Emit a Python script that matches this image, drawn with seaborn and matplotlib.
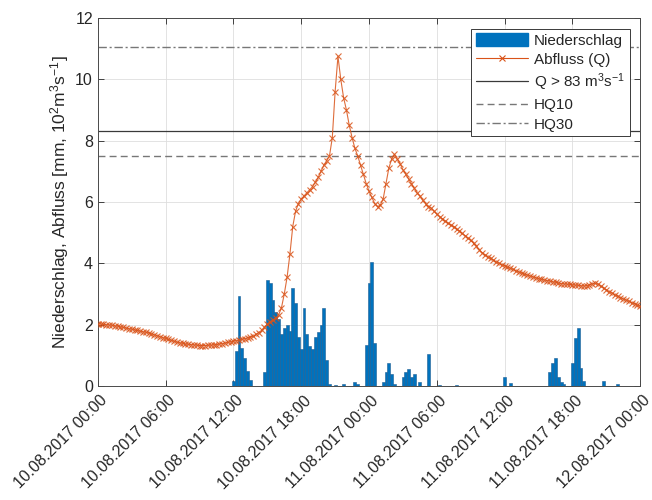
import pandas as pd
import matplotlib
matplotlib.use('Agg')
import matplotlib.pyplot as plt
import matplotlib.dates as mdates
import matplotlib.transforms as mtransforms
from matplotlib.lines import Line2D
from matplotlib.patches import Patch
import seaborn as sns

# Abfluss Q [10^2 m3/s], 15-min Werte 10.08.2017 00:00 - 12.08.2017 00:00
abfluss = [
    2.03, 2.02, 2.01, 2.00,  1.99, 1.98, 1.96, 1.95,  1.93, 1.91, 1.89, 1.87,
    1.85, 1.83, 1.81, 1.79,  1.77, 1.75, 1.73, 1.70,  1.67, 1.64, 1.61, 1.58,
    1.55, 1.52, 1.49, 1.46,  1.43, 1.41, 1.39, 1.37,  1.36, 1.35, 1.34, 1.33,
    1.32, 1.32, 1.32, 1.33,  1.33, 1.34, 1.35, 1.37,  1.38, 1.40, 1.42, 1.44,
    1.46, 1.48, 1.50, 1.52,  1.54, 1.57, 1.60, 1.62,  1.68, 1.74, 1.82, 1.92,
    2.02, 2.10, 2.16, 2.22,  2.32, 2.55, 3.00, 3.55,  4.30, 5.20, 5.70, 5.95,
    6.10, 6.20, 6.30, 6.40,  6.50, 6.65, 6.80, 7.00,  7.20, 7.35, 7.50, 8.10,
    9.60, 10.75, 10.00, 9.40,  9.00, 8.50, 8.10, 7.75,  7.50, 7.20, 6.90, 6.60,
    6.35, 6.15, 5.95, 5.85,  5.90, 6.10, 6.60, 7.10,  7.40, 7.55, 7.40, 7.25,
    7.05, 6.90, 6.75, 6.60,  6.45, 6.30, 6.20, 6.05,  5.95, 5.85, 5.80, 5.70,
    5.60, 5.52, 5.45, 5.38,  5.30, 5.25, 5.20, 5.12,  5.05, 4.98, 4.90, 4.82,
    4.75, 4.65, 4.55, 4.45,  4.35, 4.28, 4.22, 4.16,  4.10, 4.05, 4.00, 3.96,
    3.92, 3.88, 3.84, 3.80,  3.76, 3.72, 3.68, 3.65,  3.62, 3.59, 3.56, 3.53,
    3.50, 3.48, 3.46, 3.44,  3.42, 3.40, 3.38, 3.36,  3.34, 3.33, 3.32, 3.31,
    3.30, 3.29, 3.28, 3.27,  3.26, 3.27, 3.30, 3.33,  3.35, 3.32, 3.26, 3.20,
    3.14, 3.08, 3.03, 2.98,  2.93, 2.88, 2.84, 2.80,  2.76, 2.72, 2.68, 2.64,
    2.60,
]

# Niederschlag [mm] je 15 min (nur Werte > 0)
nieder_zeit = [
    '2017-08-10 12:00', '2017-08-10 12:15', '2017-08-10 12:30', '2017-08-10 12:45',
    '2017-08-10 13:00', '2017-08-10 13:15', '2017-08-10 13:30',
    '2017-08-10 14:45', '2017-08-10 15:00', '2017-08-10 15:15', '2017-08-10 15:30',
    '2017-08-10 15:45', '2017-08-10 16:00', '2017-08-10 16:15', '2017-08-10 16:30',
    '2017-08-10 16:45', '2017-08-10 17:00', '2017-08-10 17:15', '2017-08-10 17:30',
    '2017-08-10 17:45', '2017-08-10 18:00', '2017-08-10 18:15', '2017-08-10 18:30',
    '2017-08-10 18:45', '2017-08-10 19:00', '2017-08-10 19:15', '2017-08-10 19:30',
    '2017-08-10 19:45', '2017-08-10 20:00', '2017-08-10 20:15', '2017-08-10 20:30',
    '2017-08-10 21:00', '2017-08-10 21:45', '2017-08-10 22:45', '2017-08-10 23:00',
    '2017-08-10 23:45', '2017-08-11 00:00', '2017-08-11 00:15', '2017-08-11 00:30',
    '2017-08-11 01:15', '2017-08-11 01:30', '2017-08-11 01:45', '2017-08-11 02:00',
    '2017-08-11 02:15', '2017-08-11 03:00', '2017-08-11 03:15', '2017-08-11 03:30',
    '2017-08-11 03:45', '2017-08-11 04:00', '2017-08-11 04:30', '2017-08-11 05:15',
    '2017-08-11 06:15', '2017-08-11 07:45', '2017-08-11 12:00', '2017-08-11 12:30',
    '2017-08-11 16:00', '2017-08-11 16:15', '2017-08-11 16:30', '2017-08-11 16:45',
    '2017-08-11 17:00', '2017-08-11 17:15', '2017-08-11 18:00', '2017-08-11 18:15',
    '2017-08-11 18:30', '2017-08-11 18:45', '2017-08-11 19:00', '2017-08-11 20:45',
    '2017-08-11 22:00',
]
niederschlag = [
    0.15, 1.15, 2.95, 1.25,
    0.90, 0.50, 0.20,
    0.45, 3.45, 3.35, 2.80,
    2.40, 2.20, 1.70, 1.90,
    2.00, 1.80, 3.20, 2.70,
    1.60, 1.20, 2.55, 1.70,
    1.30, 1.20, 1.60, 1.75,
    2.00, 2.55, 0.85, 0.05,
    0.04, 0.05, 0.12, 0.05,
    1.35, 3.35, 4.05, 1.40,
    0.12, 0.45, 0.75, 0.40,
    0.08, 0.30, 0.45, 0.55,
    0.30, 0.40, 0.12, 1.05,
    0.04, 0.04, 0.30, 0.10,
    0.45, 0.75, 0.90, 0.30,
    0.12, 0.05, 0.75, 1.55,
    1.90, 0.60, 0.15, 0.15,
    0.05,
]

# Schwellenwerte
q_83 = 8.3
hq10 = 7.5
hq30 = 11.05

zeit_q = pd.date_range('2017-08-10 00:00', periods=len(abfluss), freq='15min')
df_q = pd.DataFrame({'zeit': zeit_q, 'Q': abfluss})
df_n = pd.DataFrame({'zeit': pd.to_datetime(nieder_zeit), 'mm': niederschlag})

sns.set_theme(style='whitegrid')
plt.rcParams['font.family'] = ['Liberation Sans', 'DejaVu Sans']
plt.rcParams['mathtext.fontset'] = 'custom'
plt.rcParams['mathtext.rm'] = 'Liberation Sans'
plt.rcParams['mathtext.it'] = 'Liberation Sans:italic'

blau = '#0072BD'
orange = '#D95319'

fig = plt.figure(figsize=(6.52, 5.0), dpi=100)
ax = fig.add_axes([0.150, 0.228, 0.832, 0.736])

ax.bar(df_n['zeit'], df_n['mm'], width=1 / 96, color=blau,
       edgecolor='#1d5d92', linewidth=0.4, zorder=2)

sns.lineplot(data=df_q, x='zeit', y='Q', ax=ax, color=orange, lw=0.8, alpha=0.85,
             marker='x', markersize=5, markeredgewidth=0.8,
             markeredgecolor=orange, zorder=3)

ax.axhline(q_83, color='#3a3a3a', lw=0.9, zorder=1)
ax.axhline(hq10, color='#777777', lw=1.0, ls=(0, (5, 3)), zorder=1)
ax.axhline(hq30, color='#777777', lw=1.0, ls=(0, (6, 2, 1.5, 2)), zorder=1)

# Achsen
ax.set_xlim(pd.Timestamp('2017-08-10 00:00'), pd.Timestamp('2017-08-12 00:00'))
ax.set_ylim(0, 12)
ax.set_yticks(range(0, 13, 2))
ax.xaxis.set_major_locator(mdates.HourLocator(byhour=[0, 6, 12, 18]))
ax.xaxis.set_major_formatter(mdates.DateFormatter('%d.%m.%Y %H:%M'))
ax.tick_params(axis='both', colors='#262626', direction='in',
               length=4, width=0.6, bottom=True, left=True, top=True, right=True,
               labeltop=False, labelright=False)
ax.tick_params(axis='y', labelsize=11.5)
ax.tick_params(axis='x', labelsize=11.5, pad=5)
ax.set_xlabel('')
ax.set_ylabel('Niederschlag, Abfluss [mm, 10$^2$m$^3$s$^{-1}$]', fontsize=12.5,
              color='#262626', labelpad=3)
ax.grid(True, color='#dedede', lw=0.6)
ax.set_facecolor('white')
for sp in ax.spines.values():
    sp.set_color('#4a4a4a')
    sp.set_linewidth(0.7)

# gedrehte Datumsbeschriftung, etwas nach rechts versetzt
versatz = mtransforms.ScaledTranslation(0.02, 0.0, fig.dpi_scale_trans)
for lbl in ax.get_xticklabels():
    lbl.set_rotation(45)
    lbl.set_ha('right')
    lbl.set_rotation_mode('anchor')
    lbl.set_transform(lbl.get_transform() + versatz)

# Legende
handles = [
    Patch(facecolor=blau, edgecolor=blau),
    Line2D([], [], color=orange, lw=0.8, marker='x', markersize=5, markeredgewidth=0.8),
    Line2D([], [], color='#3a3a3a', lw=0.9),
    Line2D([], [], color='#777777', lw=1.0, ls=(0, (5, 3))),
    Line2D([], [], color='#777777', lw=1.0, ls=(0, (6, 2, 1.5, 2))),
]
labels = ['Niederschlag', 'Abfluss (Q)', 'Q > 83 m$^3$s$^{-1}$', 'HQ10', 'HQ30']
leg = ax.legend(handles, labels, loc='upper right', fontsize=11, frameon=True,
                fancybox=False, framealpha=1, edgecolor='#3a3a3a',
                handlelength=3.4, handleheight=0.9, labelspacing=0.3,
                borderpad=0.3, handletextpad=0.4, borderaxespad=0.7)
leg.get_frame().set_linewidth(0.7)

fig.savefig('out.png', dpi=100, facecolor='white')
